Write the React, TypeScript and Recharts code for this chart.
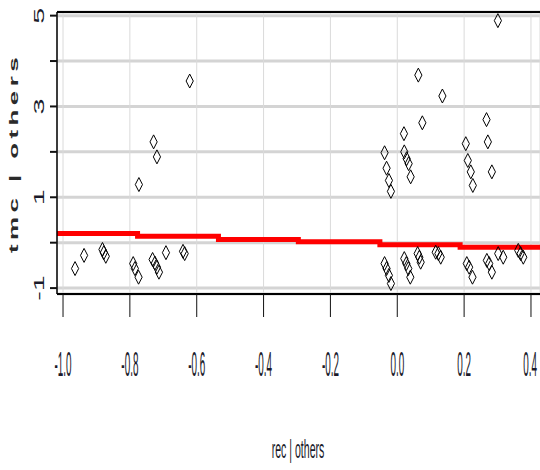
import React from "react";
import {
  ComposedChart,
  Scatter,
  Line,
  XAxis,
  YAxis,
  CartesianGrid,
  ReferenceLine,
} from "recharts";

// residuals: rec | others (x) against tmc | others (y)
const recX = [
  -0.964, -0.937, -0.882, -0.878, -0.872, -0.79, -0.785, -0.774, -0.773, -0.729,
  -0.719, -0.732, -0.725, -0.719, -0.713, -0.692, -0.641, -0.636, -0.621,
  0.301, 0.063, 0.135, 0.075, 0.02, -0.038, -0.032, -0.025, -0.019, 0.021,
  0.028, 0.034, 0.04, 0.205, 0.211, 0.22, 0.226, 0.271, 0.283, 0.267,
  -0.038, -0.032, -0.025, -0.019, 0.021, 0.027, 0.033, 0.039, 0.061, 0.066,
  0.07, 0.115, 0.123, 0.13, 0.208, 0.215, 0.225, 0.268, 0.275, 0.283, 0.302,
  0.317, 0.362, 0.369, 0.377,
];
const tmcY = [
  -0.57, -0.28, -0.15, -0.22, -0.3, -0.46, -0.57, -0.76, 1.28, 2.22,
  1.89, -0.37, -0.45, -0.54, -0.65, -0.22, -0.19, -0.24, 3.56,
  4.89, 3.69, 3.23, 2.64, 2.4, 1.98, 1.64, 1.37, 1.13, 2.0,
  1.85, 1.74, 1.45, 2.18, 1.81, 1.56, 1.26, 2.22, 1.56, 2.71,
  -0.46, -0.57, -0.72, -0.9, -0.35, -0.46, -0.57, -0.76, -0.24, -0.32,
  -0.43, -0.21, -0.24, -0.32, -0.46, -0.54, -0.76, -0.39, -0.46, -0.65, -0.24,
  -0.32, -0.17, -0.24, -0.32,
];

// fitted step line
const stepX = [-1.018, -0.777, -0.535, -0.296, -0.052, 0.188, 0.427];
const stepY = [0.2, 0.14, 0.07, 0.02, -0.045, -0.1, -0.1];

const xTicks = [-1.0, -0.8, -0.6, -0.4, -0.2, 0.0, 0.2, 0.4];
const yTicks = [-1, 0, 1, 2, 3, 4, 5];
const yLabelled = [-1, 1, 3, 5];

const X_DOMAIN: [number, number] = [-1.018, 0.427];
const Y_DOMAIN: [number, number] = [-1.13, 5.08];

const points = recX.map((x, i) => ({ x, y: tmcY[i] }));
const steps = stepX.map((x, i) => ({ x, y: stepY[i] }));

const FONT = "'Liberation Sans', Arial, sans-serif";

const Diamond = (props: any) => {
  const { cx, cy } = props;
  if (cx == null || cy == null) return null;
  return (
    <path
      d={`M${cx},${cy - 7} L${cx + 3.6},${cy} L${cx},${cy + 7} L${cx - 3.6},${cy} Z`}
      fill="none"
      stroke="#000"
      strokeWidth={1}
    />
  );
};

const XTick = (props: any) => {
  const { x, payload } = props;
  return (
    <g transform={`translate(${x},364) scale(0.55,1.95)`}>
      <text textAnchor="middle" dominantBaseline="central" fontSize={18} fill="#1a1a2a" fontFamily={FONT}>
        {payload.value.toFixed(1)}
      </text>
    </g>
  );
};

const YTick = (props: any) => {
  const { y, payload } = props;
  if (!yLabelled.includes(payload.value)) return null;
  return (
    <g transform={`translate(39,${y}) scale(1.1,2.3) rotate(-90)`}>
      <text textAnchor="middle" dominantBaseline="central" fontSize={12.5} fill="#1a1a2a" fontFamily={FONT}>
        {payload.value}
      </text>
    </g>
  );
};

export default function App() {
  return (
    <div style={{ position: "absolute", left: 0, top: 0, background: "#fff" }}>
      <ComposedChart
        width={540}
        height={470}
        margin={{ top: 12, right: 0, bottom: 0, left: 0 }}
      >
        <CartesianGrid horizontal={true} vertical={false} stroke="#d4d4d4" strokeWidth={3} />
        <CartesianGrid horizontal={false} vertical={true} stroke="#dadada" strokeWidth={1} />
        <XAxis
          type="number"
          dataKey="x"
          domain={X_DOMAIN}
          ticks={xTicks}
          allowDataOverflow
          height={176}
          tickSize={23}
          axisLine={{ stroke: "#000", strokeWidth: 2 }}
          tickLine={{ stroke: "#111", strokeWidth: 1 }}
          tick={<XTick />}
          label={{
            value: "rec | others",
            content: () => (
              <g transform="translate(298,449) scale(0.66,1.6)">
                <text textAnchor="middle" dominantBaseline="central" fontSize={16} fill="#1a1a2a" fontFamily={FONT}>
                  rec | others
                </text>
              </g>
            ),
          }}
        />
        <YAxis
          type="number"
          dataKey="y"
          domain={Y_DOMAIN}
          ticks={yTicks}
          allowDataOverflow
          width={57}
          tickSize={7}
          axisLine={{ stroke: "#000", strokeWidth: 1.5 }}
          tickLine={{ stroke: "#111", strokeWidth: 2 }}
          tick={<YTick />}
          label={{
            value: "tmc | others",
            content: () => (
              <g transform="translate(13,153) scale(1,2) rotate(-90)">
                <text
                  textAnchor="middle"
                  dominantBaseline="central"
                  fontSize={13}
                  fontWeight="bold"
                  letterSpacing={2.2}
                  fill="#2a2a2a"
                  fontFamily={FONT}
                >
                  tmc | others
                </text>
              </g>
            ),
          }}
        />
        <ReferenceLine y={Y_DOMAIN[1]} stroke="#000" strokeWidth={2} ifOverflow="visible" />
        <Scatter data={points} shape={<Diamond />} isAnimationActive={false} />
        <Line
          data={steps}
          dataKey="y"
          type="stepAfter"
          stroke="#ff0000"
          strokeWidth={5}
          dot={false}
          activeDot={false}
          isAnimationActive={false}
        />
      </ComposedChart>
    </div>
  );
}
